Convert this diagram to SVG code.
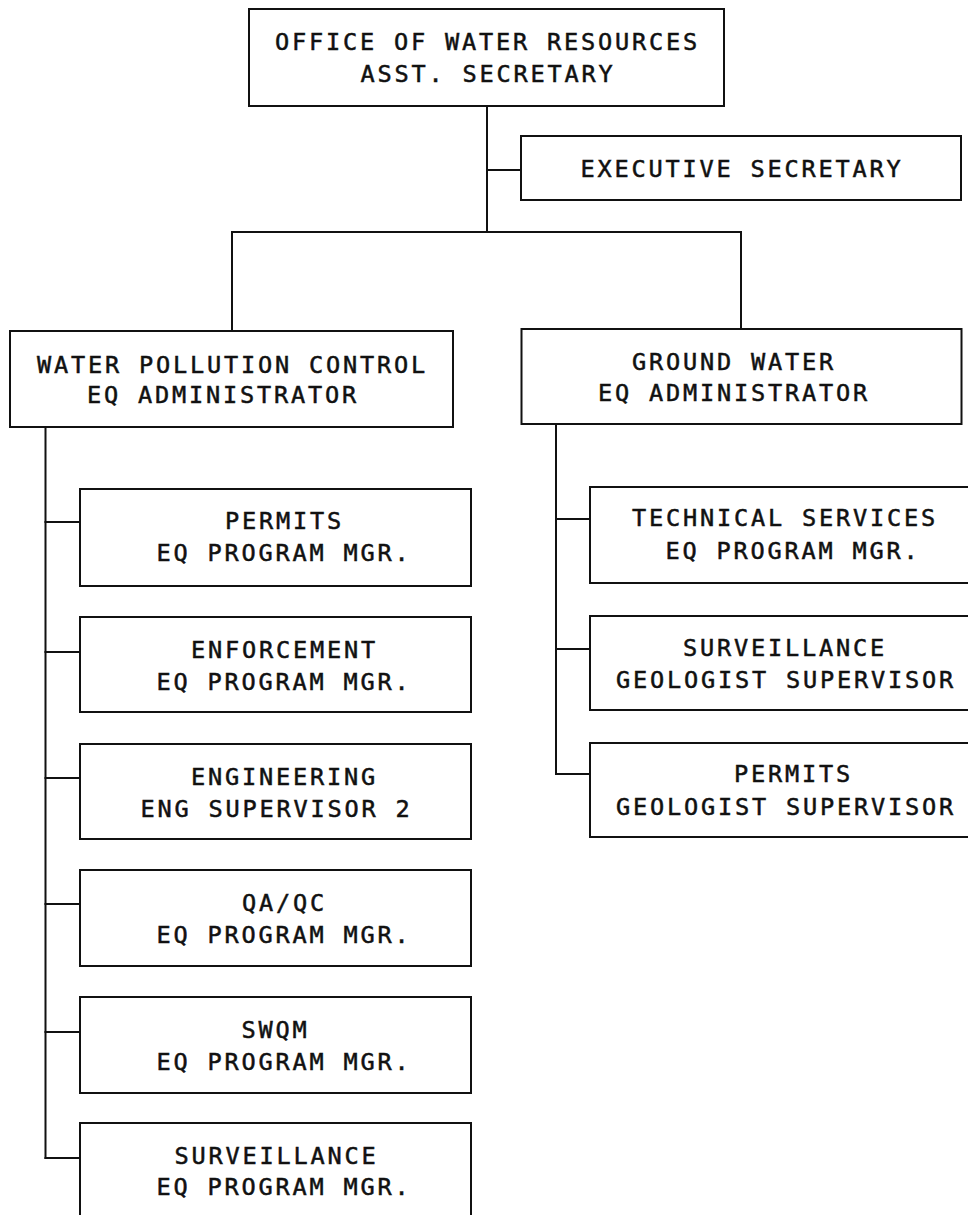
<svg xmlns="http://www.w3.org/2000/svg" width="968" height="1215" viewBox="0 0 968 1215">
<style>
rect.box{fill:#fff;stroke:#111;stroke-width:2}
.conn line{stroke:#111;stroke-width:2;stroke-linecap:square}
text{font-family:"DejaVu Sans Mono","Liberation Mono",monospace;font-size:23.6px;letter-spacing:2.8px;fill:#111;stroke:#111;stroke-width:0.5px}
</style>
<rect width="968" height="1215" fill="#fff"/>
<g class="conn" id="connectors">
<line x1="487" y1="106" x2="487" y2="232"/>
<line x1="487" y1="170" x2="521" y2="170"/>
<line x1="232" y1="232" x2="741" y2="232"/>
<line x1="232" y1="232" x2="232" y2="331"/>
<line x1="741" y1="232" x2="741" y2="329"/>
<line x1="45.5" y1="427" x2="45.5" y2="1158"/>
<line x1="45.5" y1="522" x2="80" y2="522"/>
<line x1="45.5" y1="652" x2="80" y2="652"/>
<line x1="45.5" y1="778" x2="80" y2="778"/>
<line x1="45.5" y1="904" x2="80" y2="904"/>
<line x1="45.5" y1="1032" x2="80" y2="1032"/>
<line x1="45.5" y1="1158" x2="80" y2="1158"/>
<line x1="556" y1="424" x2="556" y2="774"/>
<line x1="556" y1="519" x2="590" y2="519"/>
<line x1="556" y1="649" x2="590" y2="649"/>
<line x1="556" y1="774" x2="590" y2="774"/>
</g>
<g id="asst-secretary">
<rect class="box" x="249" y="9" width="475" height="97"/>
<text x="275" y="50">OFFICE OF WATER RESOURCES</text>
<text x="360.5" y="82">ASST. SECRETARY</text>
</g>
<g id="executive-secretary">
<rect class="box" x="521" y="136" width="440" height="64"/>
<text x="580.5" y="177">EXECUTIVE SECRETARY</text>
</g>
<g id="water-pollution-control">
<rect class="box" x="10" y="331" width="443" height="96"/>
<text x="37" y="373">WATER POLLUTION CONTROL</text>
<text x="87" y="403">EQ ADMINISTRATOR</text>
</g>
<g id="ground-water">
<rect class="box" x="521.5" y="329" width="440" height="95"/>
<text x="632" y="370">GROUND WATER</text>
<text x="598" y="401">EQ ADMINISTRATOR</text>
</g>
<g id="wpc-permits">
<rect class="box" x="80" y="489" width="391" height="97"/>
<text x="225" y="529">PERMITS</text>
<text x="156.5" y="561">EQ PROGRAM MGR.</text>
</g>
<g id="wpc-enforcement">
<rect class="box" x="80" y="617" width="391" height="95"/>
<text x="191" y="658">ENFORCEMENT</text>
<text x="156.5" y="690">EQ PROGRAM MGR.</text>
</g>
<g id="wpc-engineering">
<rect class="box" x="80" y="744" width="391" height="95"/>
<text x="191" y="785">ENGINEERING</text>
<text x="140.5" y="817">ENG SUPERVISOR 2</text>
</g>
<g id="wpc-qaqc">
<rect class="box" x="80" y="870" width="391" height="96"/>
<text x="242" y="911">QA/QC</text>
<text x="156.5" y="943">EQ PROGRAM MGR.</text>
</g>
<g id="wpc-swqm">
<rect class="box" x="80" y="997" width="391" height="96"/>
<text x="241.5" y="1038">SWQM</text>
<text x="156.5" y="1070">EQ PROGRAM MGR.</text>
</g>
<g id="wpc-surveillance">
<rect class="box" x="80" y="1123" width="391" height="100"/>
<text x="174.5" y="1164">SURVEILLANCE</text>
<text x="156.5" y="1195">EQ PROGRAM MGR.</text>
</g>
<g id="gw-technical-services">
<rect class="box" x="590" y="487" width="400" height="96"/>
<text x="632" y="526">TECHNICAL SERVICES</text>
<text x="665.5" y="559">EQ PROGRAM MGR.</text>
</g>
<g id="gw-surveillance">
<rect class="box" x="590" y="616" width="400" height="94"/>
<text x="683" y="656">SURVEILLANCE</text>
<text x="616" y="688">GEOLOGIST SUPERVISOR</text>
</g>
<g id="gw-permits">
<rect class="box" x="590" y="743" width="400" height="94"/>
<text x="734" y="782">PERMITS</text>
<text x="616" y="815">GEOLOGIST SUPERVISOR</text>
</g>
</svg>
